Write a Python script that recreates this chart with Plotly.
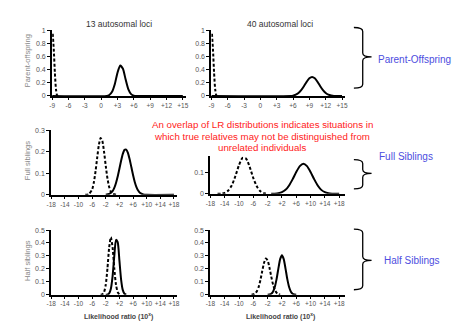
import plotly.graph_objects as go

W, H = 464, 328

# ---------------- data ----------------
# Parent-offspring, 13 loci
po13_solid_x = [-9, 1, 1.5, 2, 2.5, 3, 3.5, 4, 4.5, 5, 5.5, 6, 6.5, 15]
po13_solid_y = [0, 0, 0.015, 0.064, 0.18, 0.355, 0.465, 0.415, 0.25, 0.10, 0.028, 0.005, 0, 0]
po13_dash_x = [-8.9, -8.7, -8.5, -8.3, -8.1, -7.9]
po13_dash_y = [0.95, 0.7, 0.35, 0.1, 0.01, 0]
# Parent-offspring, 40 loci
po40_solid_x = [-9, 6, 6.5, 7, 7.5, 8, 8.5, 9, 9.5, 10, 10.5, 11, 11.5, 12, 12.5, 13, 13.5, 15]
po40_solid_y = [0, 0.005, 0.02, 0.046, 0.089, 0.149, 0.216, 0.27, 0.29, 0.27, 0.216, 0.149, 0.089, 0.046, 0.02, 0.008, 0, 0]
po40_dash_x = [-8.9, -8.7, -8.5, -8.3, -8.1, -7.9]
po40_dash_y = [0.95, 0.7, 0.35, 0.1, 0.01, 0]

# Full siblings, 13 loci
fs13_dash_x = [-8, -7, -6, -5.5, -5, -4.5, -4, -3.5, -3, -2.5, -2, -1.5, -1, -0.5, 0, 1]
fs13_dash_y = [0, 0.003, 0.025, 0.057, 0.109, 0.174, 0.234, 0.264, 0.25, 0.2, 0.134, 0.076, 0.036, 0.014, 0.005, 0]
fs13_solid_x = [-2, -1, 0, 0.5, 1, 1.5, 2, 2.5, 3, 3.5, 4, 4.5, 5, 5.5, 6, 6.5, 7, 7.5, 8, 9, 10, 18]
fs13_solid_y = [0, 0.004, 0.017, 0.032, 0.055, 0.085, 0.121, 0.158, 0.19, 0.209, 0.21, 0.195, 0.165, 0.129, 0.092, 0.06, 0.036, 0.02, 0.01, 0.002, 0, 0]
# Full siblings, 40 loci
fs40_dash_x = [-16, -15, -14, -13, -12, -11, -10, -9, -8, -7, -6, -5, -4, -3, -2]
fs40_dash_y = [0, 0.001, 0.005, 0.016, 0.041, 0.085, 0.137, 0.171, 0.167, 0.127, 0.075, 0.035, 0.012, 0.003, 0]
fs40_solid_x = [-1, 0, 1, 2, 3, 4, 5, 6, 7, 8, 9, 10, 11, 12, 13, 14, 15, 16, 17, 18]
fs40_solid_y = [0, 0.001, 0.003, 0.008, 0.019, 0.04, 0.07, 0.104, 0.132, 0.143, 0.132, 0.104, 0.07, 0.04, 0.019, 0.008, 0.003, 0.001, 0, 0]

# Half siblings, 13 loci
hs13_dash_x = [-3.5, -3, -2.5, -2, -1.5, -1, -0.5, 0, 0.5, 1, 1.5, 2, 2.5]
hs13_dash_y = [0, 0.003, 0.02, 0.077, 0.204, 0.366, 0.445, 0.366, 0.204, 0.077, 0.02, 0.003, 0]
hs13_solid_x = [-2, -1.5, -1, -0.5, 0, 0.5, 1, 1.5, 2, 2.5, 3, 3.5, 4]
hs13_solid_y = [0, 0.001, 0.01, 0.046, 0.142, 0.298, 0.424, 0.407, 0.265, 0.117, 0.035, 0.007, 0]
# Half siblings, 40 loci
hs40_dash_x = [-6.5, -6, -5.5, -5, -4.5, -4, -3.5, -3, -2.5, -2, -1.5, -1, -0.5, 0, 0.5, 1, 1.5]
hs40_dash_y = [0, 0.003, 0.01, 0.027, 0.06, 0.115, 0.184, 0.247, 0.28, 0.265, 0.211, 0.142, 0.08, 0.038, 0.015, 0.005, 0]
hs40_solid_x = [-2, -1.5, -1, -0.5, 0, 0.5, 1, 1.5, 2, 2.5, 3, 3.5, 4, 4.5, 5, 5.5, 6]
hs40_solid_y = [0, 0.002, 0.007, 0.023, 0.059, 0.12, 0.202, 0.275, 0.305, 0.275, 0.202, 0.12, 0.059, 0.023, 0.007, 0.002, 0]

po_ticks = [-9, -6, -3, 0, 3, 6, 9, 12, 15]
po_ticktext = ["-9", "-6", "-3", "0", "+3", "+6", "+9", "+12", "+15"]
sib_ticks = [-18, -14, -10, -6, -2, 2, 6, 10, 14, 18]
sib_ticktext = ["-18", "-14", "-10", "-6", "-2", "+2", "+6", "+10", "+14", "+18"]

col_titles = ["13 autosomal loci", "40 autosomal loci"]
row_titles = ["Parent-offspring", "Full siblings", "Half siblings"]
group_labels = ["Parent-Offspring", "Full Siblings", "Half Siblings"]
x_title = "Likelihood ratio (10<sup>x</sup>)"
note_lines = ["An overlap of LR distributions indicates situations in",
              "which true relatives may not be distinguished from",
              "unrelated individuals"]

# ---------------- layout helpers ----------------
def px(x):
    return x / W

def py(y):
    return 1 - y / H

FONT = "Liberation Sans, Arial, sans-serif"
TICKC = "#555555"

fig = go.Figure()

panels = [
    (1, po13_solid_x, po13_solid_y, po13_dash_x, po13_dash_y, [-9, 15.5], (48, 183.7), [0, 1], (94, 27), [0, 0.2, 0.4, 0.6, 0.8, 1], po_ticks, po_ticktext),
    (2, po40_solid_x, po40_solid_y, po40_dash_x, po40_dash_y, [-9, 15.5], (210, 345.7), [0, 1], (94, 27), [0, 0.2, 0.4, 0.6, 0.8, 1], po_ticks, po_ticktext),
    (3, fs13_solid_x, fs13_solid_y, fs13_dash_x, fs13_dash_y, [-18, 19], (47, 175.4), [0, 0.3], (195, 129), [0, 0.1, 0.2, 0.3], sib_ticks, sib_ticktext),
    (4, fs40_solid_x, fs40_solid_y, fs40_dash_x, fs40_dash_y, [-18, 19.5], (209, 345.5), [0, 0.18], (194, 155.3), [0, 0.1], sib_ticks, sib_ticktext),
    (5, hs13_solid_x, hs13_solid_y, hs13_dash_x, hs13_dash_y, [-18, 19], (47, 175.4), [0, 0.5], (297, 231), [0, 0.1, 0.2, 0.3, 0.4, 0.5], sib_ticks, sib_ticktext),
    (6, hs40_solid_x, hs40_solid_y, hs40_dash_x, hs40_dash_y, [-18, 19.5], (209, 345.5), [0, 0.5], (297, 231), [0, 0.1, 0.2, 0.3, 0.4, 0.5], sib_ticks, sib_ticktext),
]

layout_axes = {}
for (n, sx, sy, dx, dy, xr, xd, yr, yd, yt, xt, xtt) in panels:
    suffix = "" if n == 1 else str(n)
    xa = "x" + suffix
    ya = "y" + suffix
    fig.add_trace(go.Scatter(x=dx, y=dy, mode="lines", xaxis=xa, yaxis=ya,
                             line=dict(color="black", width=2, dash="3px,2px", shape="spline", smoothing=0.6),
                             showlegend=False, hoverinfo="skip"))
    fig.add_trace(go.Scatter(x=sx, y=sy, mode="lines", xaxis=xa, yaxis=ya,
                             line=dict(color="black", width=2, shape="spline", smoothing=0.6),
                             showlegend=False, hoverinfo="skip"))
    layout_axes["xaxis" + suffix] = dict(
        domain=[px(xd[0]), px(xd[1])], range=xr, anchor=ya,
        showgrid=False, zeroline=False, showline=True, linecolor="black", linewidth=2,
        ticks="outside", ticklen=2, tickwidth=1, tickcolor="black",
        tickvals=xt, ticktext=xtt, tickangle=0,
        tickfont=dict(size=6.5, color=TICKC, family=FONT),
        fixedrange=True,
    )
    layout_axes["yaxis" + suffix] = dict(
        domain=[py(yd[0]), py(yd[1])], range=yr, anchor=xa,
        showgrid=False, zeroline=False, showline=True, linecolor="black", linewidth=2,
        ticks="outside", ticklen=3, tickwidth=1, tickcolor="black",
        tickvals=yt, tickangle=0, tickfont=dict(size=7, color=TICKC, family=FONT),
        fixedrange=True,
    )

fig.update_layout(**layout_axes)

ann = []
for t, cx in zip(col_titles, [116, 280]):
    ann.append(dict(text=t, x=px(cx), y=py(20), xref="paper", yref="paper", showarrow=False,
                    xanchor="center", yanchor="middle", font=dict(size=8.5, color="#333", family=FONT)))
for t, cy in zip(row_titles, [58, 160, 262]):
    ann.append(dict(text=t, x=px(23), y=py(cy), xref="paper", yref="paper", showarrow=False,
                    textangle=-90, xanchor="center", yanchor="middle",
                    font=dict(size=7.5, color="#888", family=FONT)))
for cx in [115, 280]:
    ann.append(dict(text="<b>" + x_title + "</b>", x=px(cx), y=py(319), xref="paper", yref="paper",
                    showarrow=False, xanchor="center", yanchor="middle",
                    font=dict(size=7, color="#444", family=FONT)))
for t, ly in zip(note_lines, [123, 135, 147]):
    ann.append(dict(text=t, x=px(262), y=py(ly), xref="paper", yref="paper", showarrow=False,
                    xanchor="center", yanchor="middle", font=dict(size=9.7, color="#ff1a1a", family=FONT)))
for t, lx, ly in zip(group_labels, [378, 379, 384], [57, 156, 262]):
    ann.append(dict(text=t, x=px(lx), y=py(ly), xref="paper", yref="paper", showarrow=False,
                    xanchor="left", yanchor="middle", font=dict(size=10, color="#4d4de0", family=FONT)))

def brace(x0, xm, xt, y0, ymid, y1):
    pts = lambda x, y: f"{px(x):.5f},{py(y):.5f}"
    r = 4
    return (f"M {pts(x0, y0)} Q {pts(xm, y0)} {pts(xm, y0 + r)} "
            f"L {pts(xm, ymid - r)} Q {pts(xm, ymid)} {pts(xt, ymid)} "
            f"Q {pts(xm, ymid)} {pts(xm, ymid + r)} "
            f"L {pts(xm, y1 - r)} Q {pts(xm, y1)} {pts(x0, y1)}")

shapes = []
for (y0, ym, y1) in [(24, 54, 86), (159, 173, 189), (230, 262, 292)]:
    shapes.append(dict(type="path", path=brace(355, 364, 373, y0, ym, y1), xref="paper", yref="paper",
                       line=dict(color="black", width=1.3)))

fig.update_layout(
    width=W, height=H, margin=dict(l=0, r=0, t=0, b=0),
    paper_bgcolor="white", plot_bgcolor="white",
    annotations=ann, shapes=shapes, showlegend=False,
    font=dict(family=FONT),
)

fig.write_html("out.html",
               config={"displayModeBar": False, "staticPlot": True},
               post_script="document.body.style.margin='0';document.body.style.overflow='hidden';")
